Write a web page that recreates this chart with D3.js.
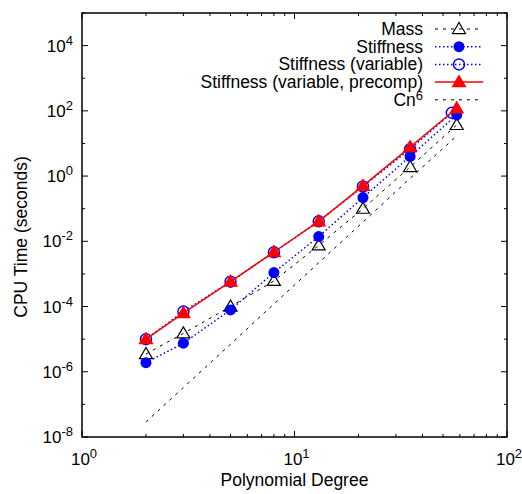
<!DOCTYPE html>
<html>
<head>
<meta charset="utf-8">
<script src="https://cdn.jsdelivr.net/npm/d3@7"></script>
<style>
body { margin: 0; background: #fff; }
text { font-family: "Liberation Sans", Arial, sans-serif; fill: #000; }
</style>
</head>
<body>
<div id="root"></div>
<script>
// polynomial degrees (the variable run stops at 55)
const degrees = [2, 3, 5, 8, 13, 21, 35, 58]
const degreesVariable = [2, 3, 5, 8, 13, 21, 35, 55]

// cpu time, seconds
const mass = [3.5e-6, 1.5e-5, 1.0e-4, 6.1e-4, 7.5e-3, 0.10, 1.9, 37]
const stiffness = [1.9e-6, 7.5e-6, 7.9e-5, 1.1e-3, 0.014, 0.22, 4.0, 75]
const stiffnessVariable = [1.0e-5, 7.0e-5, 5.8e-4, 4.6e-3, 0.041, 0.48, 6.7, 87]
const stiffnessPrecomp = [1.0e-5, 6.3e-5, 5.8e-4, 4.7e-3, 0.041, 0.50, 7.7, 120]
const cn6 = [2.9e-8, 3.3e-7, 7.0e-6, 1.2e-4, 2.2e-3, 0.039, 0.85, 17]

const xTickExp = [0, 1, 2]
const yTickExp = [-8, -6, -4, -2, 0, 2, 4]

const width = 522, height = 494
const margin = {left: 82, right: 15, top: 13, bottom: 57}

const x = d3.scaleLog().domain([1, 100]).range([margin.left, width - margin.right])
const y = d3.scaleLog().domain([1e-8, 1e5]).range([height - margin.bottom, margin.top])

const svg = d3.select('#root').append('svg')
	.attr('width', width)
	.attr('height', height)

const series = [
	{name: 'Mass', xs: degrees, ys: mass, color: '#000', dash: '3,5', width: 1, marker: 'openTri'},
	{name: 'Stiffness', xs: degrees, ys: stiffness, color: '#0000ff', dash: '1.5,2.5', width: 1.5, marker: 'dot'},
	{name: 'Stiffness (variable)', xs: degreesVariable, ys: stiffnessVariable, color: '#0000ff', dash: '1.5,2.5', width: 1.5, marker: 'ring'},
	{name: 'Stiffness (variable, precomp)', xs: degrees, ys: stiffnessPrecomp, color: '#ff0000', dash: null, width: 1.5, marker: 'tri'},
	{name: 'Cn', sup: '6', xs: degrees, ys: cn6, color: '#000', dash: '3,5', width: 1, marker: null},
]

// ticks (inward, mirrored)
const plotB = height - margin.bottom, plotT = margin.top
const plotL = margin.left, plotR = width - margin.right
const xMinor = []
for (let d = 1; d < 100; d *= 10) for (let k = 2; k < 10; k++) xMinor.push(d * k)
const yAll = d3.range(-8, 6).map(e => Math.pow(10, e))
const yMajor = yTickExp.map(e => Math.pow(10, e))
const yMinor = yAll.filter(v => !yMajor.includes(v))
const xMajor = xTickExp.map(e => Math.pow(10, e))

const ticks = svg.append('g').attr('stroke', '#000').attr('stroke-width', 1)
function xTicks(vals, len) {
	vals.forEach(v => {
		ticks.append('line').attr('x1', x(v)).attr('x2', x(v)).attr('y1', plotB).attr('y2', plotB - len)
		ticks.append('line').attr('x1', x(v)).attr('x2', x(v)).attr('y1', plotT).attr('y2', plotT + len)
	})
}
function yTicks(vals, len) {
	vals.forEach(v => {
		ticks.append('line').attr('y1', y(v)).attr('y2', y(v)).attr('x1', plotL).attr('x2', plotL + len)
		ticks.append('line').attr('y1', y(v)).attr('y2', y(v)).attr('x1', plotR).attr('x2', plotR - len)
	})
}
xTicks(xMajor, 6)
xTicks(xMinor, 3)
yTicks(yMajor, 6)
yTicks(yMinor, 3)

// tick labels
const labels = svg.append('g').style('font-size', '17px')
xTickExp.forEach(e => {
	const t = labels.append('text')
		.attr('x', x(Math.pow(10, e)) + 2)
		.attr('y', plotB + 28)
		.attr('text-anchor', 'middle')
	t.append('tspan').text('10')
	t.append('tspan').attr('dy', -7).style('font-size', '13px').text(e)
})
yTickExp.forEach(e => {
	const t = labels.append('text')
		.attr('x', plotL - 9)
		.attr('y', y(Math.pow(10, e)) + 6)
		.attr('text-anchor', 'end')
	t.append('tspan').text('10')
	t.append('tspan').attr('dy', -7).style('font-size', '13px').text(e)
})

labels.append('text')
	.attr('x', (plotL + plotR) / 2)
	.attr('y', 486)
	.attr('text-anchor', 'middle')
	.style('font-size', '17.5px')
	.text('Polynomial Degree')
labels.append('text')
	.attr('transform', `translate(27, 237) rotate(-90)`)
	.attr('text-anchor', 'middle')
	.style('font-size', '17.5px')
	.text('CPU Time (seconds)')

function drawMarker(g, kind, color, cx, cy) {
	if (kind === 'dot') {
		g.append('circle').attr('cx', cx).attr('cy', cy).attr('r', 5.5).attr('fill', color)
	} else if (kind === 'ring') {
		g.append('circle').attr('cx', cx).attr('cy', cy).attr('r', 5.5)
			.attr('fill', 'none').attr('stroke', color).attr('stroke-width', 1.5)
	} else if (kind === 'tri' || kind === 'openTri') {
		const s = 6.5
		const pts = [[cx, cy - s], [cx - s, cy + s * 0.7], [cx + s, cy + s * 0.7]]
		g.append('polygon').attr('points', pts.map(p => p.join(',')).join(' '))
			.attr('fill', kind === 'tri' ? color : 'none')
			.attr('stroke', color).attr('stroke-width', 1.2)
	}
}

const line = d3.line().x(d => x(d[0])).y(d => y(d[1]))
const plot = svg.append('g')
series.forEach(s => {
	const data = s.xs.map((v, i) => [v, s.ys[i]])
	plot.append('path')
		.attr('d', line(data))
		.attr('fill', 'none')
		.attr('stroke', s.color)
		.attr('stroke-width', s.width)
		.attr('stroke-dasharray', s.dash)
	if (s.marker) data.forEach(d => drawMarker(plot, s.marker, s.color, x(d[0]), y(d[1])))
})

// legend
const legend = svg.append('g').style('font-size', '17.5px')
series.forEach((s, i) => {
	const ly = 29 + i * 17.7
	const t = legend.append('text').attr('x', 423).attr('y', ly + 6).attr('text-anchor', 'end')
	t.append('tspan').text(s.name)
	if (s.sup) t.append('tspan').attr('dy', -6).style('font-size', '13px').text(s.sup)
	legend.append('line')
		.attr('x1', 435).attr('x2', 483).attr('y1', ly).attr('y2', ly)
		.attr('stroke', s.color)
		.attr('stroke-width', s.width)
		.attr('stroke-dasharray', s.dash)
	if (s.marker) drawMarker(legend, s.marker, s.color, 459, ly)
})

// frame
svg.append('rect')
	.attr('x', plotL).attr('y', plotT)
	.attr('width', plotR - plotL).attr('height', plotB - plotT)
	.attr('fill', 'none').attr('stroke', '#000').attr('stroke-width', 1.5)
</script>
</body>
</html>
